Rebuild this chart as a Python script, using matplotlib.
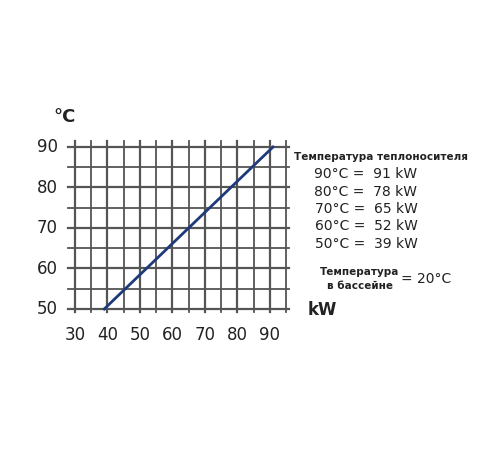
import matplotlib
matplotlib.use("Agg")
import matplotlib.pyplot as plt

kw = [39, 91]
temp = [50, 90]
xticks = [30, 40, 50, 60, 70, 80, 90]
yticks = [50, 60, 70, 80, 90]
legend_rows = ["90°C =  91 kW", "80°C =  78 kW", "70°C =  65 kW", "60°C =  52 kW", "50°C =  39 kW"]

W, H = 500, 450
fig = plt.figure(figsize=(5, 4.5), dpi=100)
x0, x1, y0, y1 = 27, 97, 48.5, 92
px = lambda v: 75 + (v - 30) * (211 / 65)
py = lambda v: 309 - (v - 50) * (162 / 40)
left, right = px(x0), px(x1)
top, bot = py(y1), py(y0)
ax = fig.add_axes([left / W, 1 - bot / H, (right - left) / W, (bot - top) / H])
ax.set_xlim(x0, x1); ax.set_ylim(y0, y1)
ax.axis("off")
gc = "#555555"
for v in range(30, 100, 5):
    ax.plot([v, v], [49.2, 91.5], color=gc, lw=1.6 if v % 10 == 0 else 1.3, zorder=1)
for v in range(50, 95, 5):
    ax.plot([27.8, 95.8], [v, v], color=gc, lw=1.6 if v % 10 == 0 else 1.3, zorder=1)
ax.plot(kw, temp, color="#1f3a7a", lw=2, zorder=3)

for t in xticks:
    fig.text(px(t) / W, 1 - 335 / H, str(t), ha="center", va="center", fontsize=12, color="#222")
for t in yticks:
    fig.text(58 / W, 1 - py(t) / H, str(t), ha="right", va="center", fontsize=12, color="#222")
fig.text(65 / W, 1 - 117 / H, "°C", ha="center", va="center", fontsize=13, fontweight="bold", color="#222")
fig.text(322 / W, 1 - 310 / H, "kW", ha="center", va="center", fontsize=12, fontweight="bold", color="#222")
fig.text(381 / W, 1 - 157 / H, "Температура теплоносителя", ha="center", va="center", fontsize=7.5, fontweight="bold", color="#222")
for i, r in enumerate(legend_rows):
    fig.text(366 / W, 1 - (174 + i * 17.5) / H, r, ha="center", va="center", fontsize=10, color="#222")
fig.text(360 / W, 1 - 279 / H, "Температура\nв бассейне", ha="center", va="center", fontsize=7.5, fontweight="bold", color="#222", linespacing=1.6)
fig.text(426 / W, 1 - 279 / H, "= 20°C", ha="center", va="center", fontsize=10, color="#222")
fig.savefig("out.png", dpi=100, facecolor="white")
